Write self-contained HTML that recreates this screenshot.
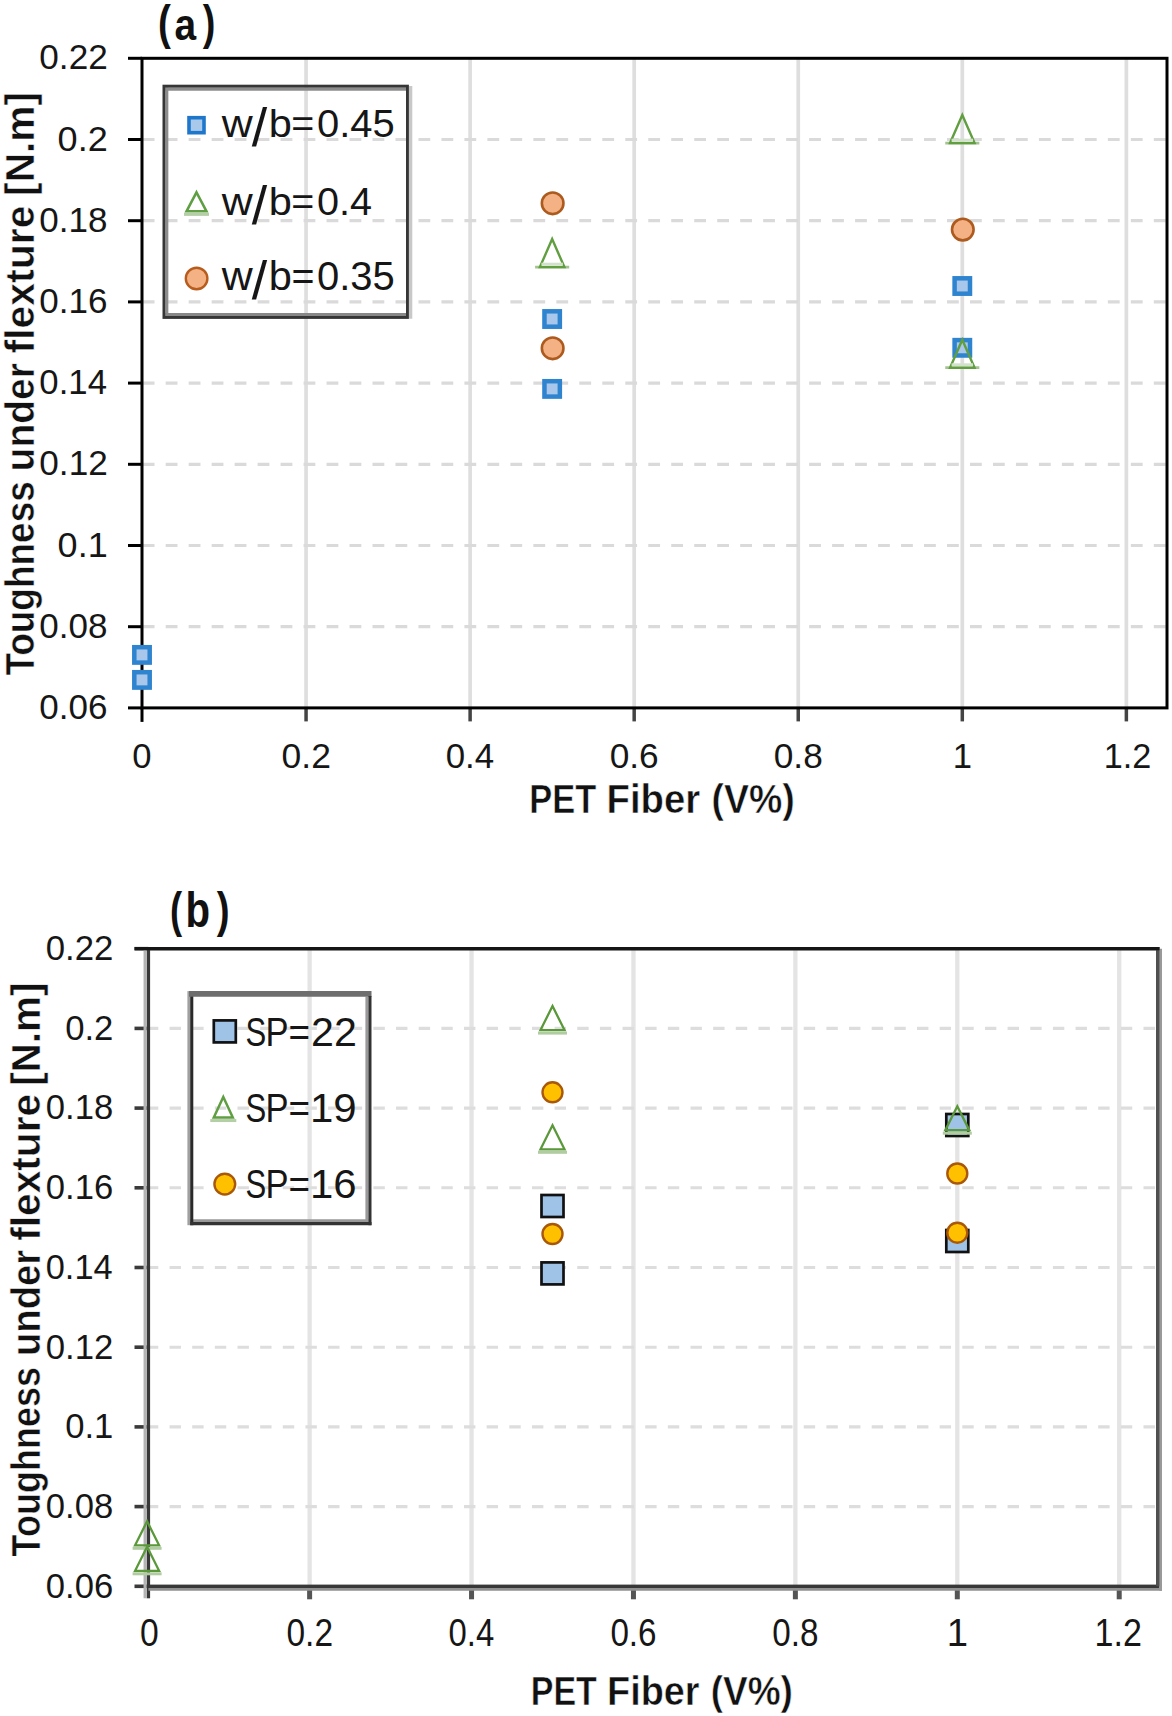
<!DOCTYPE html>
<html><head><meta charset="utf-8"><style>
html,body{margin:0;padding:0;background:#fff;}
svg{display:block;}
text{font-family:"Liberation Sans", sans-serif;}
text.r{stroke:#fff;stroke-width:0.0px;}
text.b{stroke:#fff;stroke-width:0.5px;}
</style></head><body>
<svg width="1172" height="1716" viewBox="0 0 1172 1716" font-family='"Liberation Sans", sans-serif'>
<rect width="1172" height="1716" fill="#fff"/>
<line x1="306.06" y1="58.30" x2="306.06" y2="707.90" stroke="#dedede" stroke-width="3.7"/>
<line x1="470.12" y1="58.30" x2="470.12" y2="707.90" stroke="#dedede" stroke-width="3.7"/>
<line x1="634.18" y1="58.30" x2="634.18" y2="707.90" stroke="#dedede" stroke-width="3.7"/>
<line x1="798.24" y1="58.30" x2="798.24" y2="707.90" stroke="#dedede" stroke-width="3.7"/>
<line x1="962.30" y1="58.30" x2="962.30" y2="707.90" stroke="#dedede" stroke-width="3.7"/>
<line x1="1126.36" y1="58.30" x2="1126.36" y2="707.90" stroke="#dedede" stroke-width="3.7"/>
<line x1="142.70" y1="626.70" x2="1167.38" y2="626.70" stroke="#dadada" stroke-width="3.2" stroke-dasharray="11.8 11.18"/>
<line x1="142.70" y1="545.50" x2="1167.38" y2="545.50" stroke="#dadada" stroke-width="3.2" stroke-dasharray="11.8 11.18"/>
<line x1="142.70" y1="464.30" x2="1167.38" y2="464.30" stroke="#dadada" stroke-width="3.2" stroke-dasharray="11.8 11.18"/>
<line x1="142.70" y1="383.10" x2="1167.38" y2="383.10" stroke="#dadada" stroke-width="3.2" stroke-dasharray="11.8 11.18"/>
<line x1="142.70" y1="301.90" x2="1167.38" y2="301.90" stroke="#dadada" stroke-width="3.2" stroke-dasharray="11.8 11.18"/>
<line x1="142.70" y1="220.70" x2="1167.38" y2="220.70" stroke="#dadada" stroke-width="3.2" stroke-dasharray="11.8 11.18"/>
<line x1="142.70" y1="139.50" x2="1167.38" y2="139.50" stroke="#dadada" stroke-width="3.2" stroke-dasharray="11.8 11.18"/>
<line x1="128.00" y1="707.90" x2="142.00" y2="707.90" stroke="#000" stroke-width="3"/>
<line x1="128.00" y1="626.70" x2="142.00" y2="626.70" stroke="#000" stroke-width="3"/>
<line x1="128.00" y1="545.50" x2="142.00" y2="545.50" stroke="#000" stroke-width="3"/>
<line x1="128.00" y1="464.30" x2="142.00" y2="464.30" stroke="#000" stroke-width="3"/>
<line x1="128.00" y1="383.10" x2="142.00" y2="383.10" stroke="#000" stroke-width="3"/>
<line x1="128.00" y1="301.90" x2="142.00" y2="301.90" stroke="#000" stroke-width="3"/>
<line x1="128.00" y1="220.70" x2="142.00" y2="220.70" stroke="#000" stroke-width="3"/>
<line x1="128.00" y1="139.50" x2="142.00" y2="139.50" stroke="#000" stroke-width="3"/>
<line x1="128.00" y1="58.30" x2="142.00" y2="58.30" stroke="#000" stroke-width="3"/>
<line x1="142.00" y1="707.90" x2="142.00" y2="721.90" stroke="#000" stroke-width="3"/>
<line x1="306.06" y1="707.90" x2="306.06" y2="721.40" stroke="#444" stroke-width="3.5"/>
<line x1="470.12" y1="707.90" x2="470.12" y2="721.40" stroke="#444" stroke-width="3.5"/>
<line x1="634.18" y1="707.90" x2="634.18" y2="721.40" stroke="#444" stroke-width="3.5"/>
<line x1="798.24" y1="707.90" x2="798.24" y2="721.40" stroke="#444" stroke-width="3.5"/>
<line x1="962.30" y1="707.90" x2="962.30" y2="721.40" stroke="#444" stroke-width="3.5"/>
<line x1="1126.36" y1="707.90" x2="1126.36" y2="721.40" stroke="#444" stroke-width="3.5"/>
<rect x="142.00" y="58.30" width="1025.00" height="649.60" fill="none" stroke="#000" stroke-width="3"/>
<text class="r" x="39.35" y="718.99" font-size="35.76" font-weight="normal" fill="#161616" textLength="68.14" lengthAdjust="spacingAndGlyphs">0.06</text>
<text class="r" x="39.35" y="637.79" font-size="35.76" font-weight="normal" fill="#161616" textLength="68.14" lengthAdjust="spacingAndGlyphs">0.08</text>
<text class="r" x="57.61" y="556.59" font-size="35.76" font-weight="normal" fill="#161616" textLength="50.06" lengthAdjust="spacingAndGlyphs">0.1</text>
<text class="r" x="39.34" y="475.39" font-size="35.76" font-weight="normal" fill="#161616" textLength="68.41" lengthAdjust="spacingAndGlyphs">0.12</text>
<text class="r" x="39.36" y="394.19" font-size="35.76" font-weight="normal" fill="#161616" textLength="67.59" lengthAdjust="spacingAndGlyphs">0.14</text>
<text class="r" x="39.35" y="312.99" font-size="35.76" font-weight="normal" fill="#161616" textLength="68.14" lengthAdjust="spacingAndGlyphs">0.16</text>
<text class="r" x="39.35" y="231.79" font-size="35.76" font-weight="normal" fill="#161616" textLength="68.14" lengthAdjust="spacingAndGlyphs">0.18</text>
<text class="r" x="57.61" y="150.59" font-size="35.76" font-weight="normal" fill="#161616" textLength="50.15" lengthAdjust="spacingAndGlyphs">0.2</text>
<text class="r" x="39.34" y="69.39" font-size="35.76" font-weight="normal" fill="#161616" textLength="68.41" lengthAdjust="spacingAndGlyphs">0.22</text>
<text class="r" x="132.35" y="768.30" font-size="34.63" font-weight="normal" fill="#161616" textLength="19.26" lengthAdjust="spacingAndGlyphs">0</text>
<text class="r" x="281.59" y="768.30" font-size="34.63" font-weight="normal" fill="#161616" textLength="49.30" lengthAdjust="spacingAndGlyphs">0.2</text>
<text class="r" x="445.68" y="768.30" font-size="34.63" font-weight="normal" fill="#161616" textLength="48.46" lengthAdjust="spacingAndGlyphs">0.4</text>
<text class="r" x="609.72" y="768.30" font-size="34.63" font-weight="normal" fill="#161616" textLength="49.02" lengthAdjust="spacingAndGlyphs">0.6</text>
<text class="r" x="773.78" y="768.30" font-size="34.63" font-weight="normal" fill="#161616" textLength="49.02" lengthAdjust="spacingAndGlyphs">0.8</text>
<text class="r" x="952.81" y="768.30" font-size="34.63" font-weight="normal" fill="#161616" textLength="19.26" lengthAdjust="spacingAndGlyphs">1</text>
<text class="r" x="1103.78" y="768.30" font-size="34.63" font-weight="normal" fill="#161616" textLength="47.59" lengthAdjust="spacingAndGlyphs">1.2</text>
<text class="t" x="157.92" y="39.13" font-size="48.79" font-weight="bold" fill="#111" textLength="12.84" lengthAdjust="spacingAndGlyphs">(</text>
<text class="t" x="174.38" y="39.91" font-size="43.84" font-weight="bold" fill="#111" textLength="21.62" lengthAdjust="spacingAndGlyphs">a</text>
<text class="t" x="202.76" y="39.13" font-size="48.79" font-weight="bold" fill="#111" textLength="12.61" lengthAdjust="spacingAndGlyphs">)</text>
<text class="b" x="529.33" y="812.75" font-size="40.87" font-weight="bold" fill="#111" textLength="66.86" lengthAdjust="spacingAndGlyphs">PET</text>
<text class="b" x="606.57" y="812.75" font-size="40.87" font-weight="bold" fill="#111" textLength="93.55" lengthAdjust="spacingAndGlyphs">Fiber</text>
<text class="b" x="711.48" y="812.75" font-size="40.87" font-weight="bold" fill="#111" textLength="83.13" lengthAdjust="spacingAndGlyphs">(V%)</text>
<text class="b" fill="#111" transform="translate(33.60 675.62) rotate(-90)" font-size="40.50" font-weight="bold" textLength="194.42" lengthAdjust="spacingAndGlyphs">Toughness</text>
<text class="b" fill="#111" transform="translate(33.60 471.39) rotate(-90)" font-size="40.50" font-weight="bold" textLength="108.34" lengthAdjust="spacingAndGlyphs">under</text>
<text class="b" fill="#111" transform="translate(33.60 353.47) rotate(-90)" font-size="40.50" font-weight="bold" textLength="147.94" lengthAdjust="spacingAndGlyphs">flexture</text>
<text class="b" fill="#111" transform="translate(33.60 195.89) rotate(-90)" font-size="40.50" font-weight="bold" textLength="103.88" lengthAdjust="spacingAndGlyphs">[N.m]</text>
<line x1="166.9" y1="87.5" x2="166.9" y2="316.1" stroke="#8c8c8c" stroke-width="2.9"/>
<line x1="165.5" y1="89.15" x2="406" y2="89.15" stroke="#8c8c8c" stroke-width="3.3"/>
<line x1="165.5" y1="314.6" x2="406" y2="314.6" stroke="#888" stroke-width="3.0"/>
<line x1="410.6" y1="86" x2="410.6" y2="318.8" stroke="#c8c8c8" stroke-width="3.4"/>
<rect x="163.95" y="86.15" width="243.5" height="231.3" fill="none" stroke="#363636" stroke-width="2.9"/>
<rect x="189.00" y="117.70" width="15" height="15" fill="#a9c9eb" stroke="#1f77cc" stroke-width="3.6"/>
<path d="M196.50 192.30 L206.50 211.30 L186.50 211.30 Z" fill="none" stroke="#5f9e42" stroke-width="2.5" stroke-linejoin="miter"/>
<line x1="184.00" y1="214.40" x2="209.00" y2="214.40" stroke="#b4cfa6" stroke-width="3"/>
<circle cx="196.60" cy="278.50" r="10.8" fill="#f4b183" stroke="#b85c1e" stroke-width="2.4"/>
<text class="r" x="221.65" y="136.86" font-size="39.01" font-weight="normal" fill="#161616" textLength="30.98" lengthAdjust="spacingAndGlyphs">w</text>
<text class="r" x="268.85" y="136.86" font-size="39.01" font-weight="normal" fill="#161616" textLength="23.11" lengthAdjust="spacingAndGlyphs">b</text>
<text class="r" x="291.38" y="136.86" font-size="39.01" font-weight="normal" fill="#161616" textLength="23.00" lengthAdjust="spacingAndGlyphs">=</text>
<text class="r" x="316.95" y="136.86" font-size="39.01" font-weight="normal" fill="#161616" textLength="77.75" lengthAdjust="spacingAndGlyphs">0.45</text>
<text class="r" x="251.65" y="145.71" font-size="53.88" font-weight="normal" fill="#161616" textLength="15.42" lengthAdjust="spacingAndGlyphs">/</text>
<text class="r" x="221.65" y="215.16" font-size="39.01" font-weight="normal" fill="#161616" textLength="30.98" lengthAdjust="spacingAndGlyphs">w</text>
<text class="r" x="268.85" y="215.16" font-size="39.01" font-weight="normal" fill="#161616" textLength="23.11" lengthAdjust="spacingAndGlyphs">b</text>
<text class="r" x="291.38" y="215.16" font-size="39.01" font-weight="normal" fill="#161616" textLength="23.00" lengthAdjust="spacingAndGlyphs">=</text>
<text class="r" x="316.97" y="215.16" font-size="39.01" font-weight="normal" fill="#161616" textLength="55.08" lengthAdjust="spacingAndGlyphs">0.4</text>
<text class="r" x="251.65" y="224.01" font-size="53.88" font-weight="normal" fill="#161616" textLength="15.42" lengthAdjust="spacingAndGlyphs">/</text>
<text class="r" x="221.65" y="290.25" font-size="39.72" font-weight="normal" fill="#161616" textLength="30.98" lengthAdjust="spacingAndGlyphs">w</text>
<text class="r" x="268.85" y="290.25" font-size="39.72" font-weight="normal" fill="#161616" textLength="23.11" lengthAdjust="spacingAndGlyphs">b</text>
<text class="r" x="291.38" y="290.25" font-size="39.72" font-weight="normal" fill="#161616" textLength="23.00" lengthAdjust="spacingAndGlyphs">=</text>
<text class="r" x="316.95" y="290.25" font-size="39.72" font-weight="normal" fill="#161616" textLength="77.85" lengthAdjust="spacingAndGlyphs">0.35</text>
<text class="r" x="251.65" y="298.61" font-size="53.88" font-weight="normal" fill="#161616" textLength="15.42" lengthAdjust="spacingAndGlyphs">/</text>
<rect x="134.30" y="647.20" width="15.4" height="15.4" fill="#a8c7ea" stroke="#2f84cf" stroke-width="4.5"/>
<rect x="134.30" y="672.20" width="15.4" height="15.4" fill="#a8c7ea" stroke="#2f84cf" stroke-width="4.5"/>
<rect x="544.45" y="311.30" width="15.4" height="15.4" fill="#a8c7ea" stroke="#2f84cf" stroke-width="4.5"/>
<rect x="544.45" y="381.20" width="15.4" height="15.4" fill="#a8c7ea" stroke="#2f84cf" stroke-width="4.5"/>
<rect x="954.60" y="278.30" width="15.4" height="15.4" fill="#a8c7ea" stroke="#2f84cf" stroke-width="4.5"/>
<rect x="954.60" y="340.10" width="15.4" height="15.4" fill="#a8c7ea" stroke="#2f84cf" stroke-width="4.5"/>
<line x1="535.10" y1="267.10" x2="569.20" y2="267.10" stroke="#a3c491" stroke-width="2.7"/>
<path d="M552.15 239.10 L564.40 267.10 L539.90 267.10 Z" fill="none" stroke="#609e40" stroke-width="2.4" stroke-linejoin="miter"/>
<line x1="541.40" y1="264.20" x2="562.90" y2="264.20" stroke="#d2e2ca" stroke-width="3"/>
<line x1="945.25" y1="143.10" x2="979.35" y2="143.10" stroke="#a3c491" stroke-width="2.7"/>
<path d="M962.30 115.10 L974.55 143.10 L950.05 143.10 Z" fill="none" stroke="#609e40" stroke-width="2.4" stroke-linejoin="miter"/>
<line x1="951.55" y1="140.20" x2="973.05" y2="140.20" stroke="#d2e2ca" stroke-width="3"/>
<line x1="945.25" y1="367.70" x2="979.35" y2="367.70" stroke="#a3c491" stroke-width="2.7"/>
<path d="M962.30 339.70 L974.55 367.70 L950.05 367.70 Z" fill="none" stroke="#609e40" stroke-width="2.4" stroke-linejoin="miter"/>
<line x1="951.55" y1="364.80" x2="973.05" y2="364.80" stroke="#d2e2ca" stroke-width="3"/>
<circle cx="552.65" cy="203.30" r="10.8" fill="#f4b183" stroke="#ad5a1e" stroke-width="2.6"/>
<circle cx="552.65" cy="348.30" r="10.8" fill="#f4b183" stroke="#ad5a1e" stroke-width="2.6"/>
<circle cx="962.80" cy="229.60" r="10.8" fill="#f4b183" stroke="#ad5a1e" stroke-width="2.6"/>
<line x1="309.62" y1="948.70" x2="309.62" y2="1586.30" stroke="#e4e4e4" stroke-width="4.3"/>
<line x1="471.54" y1="948.70" x2="471.54" y2="1586.30" stroke="#e4e4e4" stroke-width="4.3"/>
<line x1="633.46" y1="948.70" x2="633.46" y2="1586.30" stroke="#e4e4e4" stroke-width="4.3"/>
<line x1="795.38" y1="948.70" x2="795.38" y2="1586.30" stroke="#e4e4e4" stroke-width="4.3"/>
<line x1="957.30" y1="948.70" x2="957.30" y2="1586.30" stroke="#e4e4e4" stroke-width="4.3"/>
<line x1="1119.22" y1="948.70" x2="1119.22" y2="1586.30" stroke="#e4e4e4" stroke-width="4.3"/>
<line x1="146.90" y1="1506.60" x2="1159.70" y2="1506.60" stroke="#dddddd" stroke-width="3.1" stroke-dasharray="11.4 11.25"/>
<line x1="146.90" y1="1426.90" x2="1159.70" y2="1426.90" stroke="#dddddd" stroke-width="3.1" stroke-dasharray="11.4 11.25"/>
<line x1="146.90" y1="1347.20" x2="1159.70" y2="1347.20" stroke="#dddddd" stroke-width="3.1" stroke-dasharray="11.4 11.25"/>
<line x1="146.90" y1="1267.50" x2="1159.70" y2="1267.50" stroke="#dddddd" stroke-width="3.1" stroke-dasharray="11.4 11.25"/>
<line x1="146.90" y1="1187.80" x2="1159.70" y2="1187.80" stroke="#dddddd" stroke-width="3.1" stroke-dasharray="11.4 11.25"/>
<line x1="146.90" y1="1108.10" x2="1159.70" y2="1108.10" stroke="#dddddd" stroke-width="3.1" stroke-dasharray="11.4 11.25"/>
<line x1="146.90" y1="1028.40" x2="1159.70" y2="1028.40" stroke="#dddddd" stroke-width="3.1" stroke-dasharray="11.4 11.25"/>
<line x1="134.50" y1="1586.30" x2="148.40" y2="1586.30" stroke="#3a3a3a" stroke-width="3.6"/>
<line x1="134.50" y1="1506.60" x2="148.40" y2="1506.60" stroke="#3a3a3a" stroke-width="3.6"/>
<line x1="134.50" y1="1426.90" x2="148.40" y2="1426.90" stroke="#3a3a3a" stroke-width="3.6"/>
<line x1="134.50" y1="1347.20" x2="148.40" y2="1347.20" stroke="#3a3a3a" stroke-width="3.6"/>
<line x1="134.50" y1="1267.50" x2="148.40" y2="1267.50" stroke="#3a3a3a" stroke-width="3.6"/>
<line x1="134.50" y1="1187.80" x2="148.40" y2="1187.80" stroke="#3a3a3a" stroke-width="3.6"/>
<line x1="134.50" y1="1108.10" x2="148.40" y2="1108.10" stroke="#3a3a3a" stroke-width="3.6"/>
<line x1="134.50" y1="1028.40" x2="148.40" y2="1028.40" stroke="#3a3a3a" stroke-width="3.6"/>
<line x1="134.50" y1="948.70" x2="148.40" y2="948.70" stroke="#3a3a3a" stroke-width="3.6"/>
<line x1="148.40" y1="1586.30" x2="148.40" y2="1598.30" stroke="#383838" stroke-width="3.4"/>
<line x1="309.62" y1="1586.30" x2="309.62" y2="1599.30" stroke="#555" stroke-width="5"/>
<line x1="471.54" y1="1586.30" x2="471.54" y2="1599.30" stroke="#555" stroke-width="5"/>
<line x1="633.46" y1="1586.30" x2="633.46" y2="1599.30" stroke="#555" stroke-width="5"/>
<line x1="795.38" y1="1586.30" x2="795.38" y2="1599.30" stroke="#555" stroke-width="5"/>
<line x1="957.30" y1="1586.30" x2="957.30" y2="1599.30" stroke="#555" stroke-width="5"/>
<line x1="1119.22" y1="1586.30" x2="1119.22" y2="1599.30" stroke="#555" stroke-width="5"/>
<rect x="148.40" y="948.70" width="1009.40" height="637.60" fill="none" stroke="#383838" stroke-width="3.4"/>
<line x1="145.1" y1="950.20" x2="145.1" y2="1598.30" stroke="#b4b4b4" stroke-width="3.1"/>
<line x1="148.40" y1="1589.3" x2="1162" y2="1589.3" stroke="#909090" stroke-width="2.8"/>
<line x1="1160.65" y1="948.70" x2="1160.65" y2="1590.7" stroke="#999" stroke-width="2.7"/>
<line x1="1157.80" y1="948.70" x2="1157.80" y2="1586.30" stroke="#505050" stroke-width="3.2"/>
<line x1="134.50" y1="948.70" x2="1159.50" y2="948.70" stroke="#161616" stroke-width="3.3"/>
<text class="r" x="45.76" y="1597.64" font-size="35.90" font-weight="normal" fill="#161616" textLength="67.40" lengthAdjust="spacingAndGlyphs">0.06</text>
<text class="r" x="45.76" y="1517.94" font-size="35.90" font-weight="normal" fill="#161616" textLength="67.40" lengthAdjust="spacingAndGlyphs">0.08</text>
<text class="r" x="65.16" y="1438.24" font-size="35.90" font-weight="normal" fill="#161616" textLength="48.14" lengthAdjust="spacingAndGlyphs">0.1</text>
<text class="r" x="45.76" y="1358.54" font-size="35.90" font-weight="normal" fill="#161616" textLength="67.68" lengthAdjust="spacingAndGlyphs">0.12</text>
<text class="r" x="45.78" y="1278.84" font-size="35.90" font-weight="normal" fill="#161616" textLength="66.87" lengthAdjust="spacingAndGlyphs">0.14</text>
<text class="r" x="45.76" y="1199.14" font-size="35.90" font-weight="normal" fill="#161616" textLength="67.40" lengthAdjust="spacingAndGlyphs">0.16</text>
<text class="r" x="45.76" y="1119.44" font-size="35.90" font-weight="normal" fill="#161616" textLength="67.40" lengthAdjust="spacingAndGlyphs">0.18</text>
<text class="r" x="65.16" y="1039.74" font-size="35.90" font-weight="normal" fill="#161616" textLength="48.23" lengthAdjust="spacingAndGlyphs">0.2</text>
<text class="r" x="45.76" y="960.04" font-size="35.90" font-weight="normal" fill="#161616" textLength="67.68" lengthAdjust="spacingAndGlyphs">0.22</text>
<text class="r" x="140.10" y="1646.37" font-size="38.30" font-weight="normal" fill="#161616" textLength="18.75" lengthAdjust="spacingAndGlyphs">0</text>
<text class="r" x="286.53" y="1646.37" font-size="38.30" font-weight="normal" fill="#161616" textLength="46.52" lengthAdjust="spacingAndGlyphs">0.2</text>
<text class="r" x="448.47" y="1646.37" font-size="38.30" font-weight="normal" fill="#161616" textLength="45.73" lengthAdjust="spacingAndGlyphs">0.4</text>
<text class="r" x="610.38" y="1646.37" font-size="38.30" font-weight="normal" fill="#161616" textLength="46.25" lengthAdjust="spacingAndGlyphs">0.6</text>
<text class="r" x="772.30" y="1646.37" font-size="38.30" font-weight="normal" fill="#161616" textLength="46.25" lengthAdjust="spacingAndGlyphs">0.8</text>
<text class="r" x="946.74" y="1646.37" font-size="38.30" font-weight="normal" fill="#161616" textLength="21.30" lengthAdjust="spacingAndGlyphs">1</text>
<text class="r" x="1094.59" y="1646.37" font-size="38.30" font-weight="normal" fill="#161616" textLength="47.37" lengthAdjust="spacingAndGlyphs">1.2</text>
<text class="t" x="170.03" y="927.03" font-size="49.76" font-weight="bold" fill="#111" textLength="12.13" lengthAdjust="spacingAndGlyphs">(</text>
<text class="t" x="185.44" y="927.45" font-size="50.07" font-weight="bold" fill="#111" textLength="24.56" lengthAdjust="spacingAndGlyphs">b</text>
<text class="t" x="216.75" y="927.03" font-size="49.76" font-weight="bold" fill="#111" textLength="12.84" lengthAdjust="spacingAndGlyphs">)</text>
<text class="b" x="530.76" y="1705.05" font-size="40.73" font-weight="bold" fill="#111" textLength="66.03" lengthAdjust="spacingAndGlyphs">PET</text>
<text class="b" x="607.10" y="1705.05" font-size="40.73" font-weight="bold" fill="#111" textLength="92.42" lengthAdjust="spacingAndGlyphs">Fiber</text>
<text class="b" x="710.70" y="1705.05" font-size="40.73" font-weight="bold" fill="#111" textLength="82.19" lengthAdjust="spacingAndGlyphs">(V%)</text>
<text class="b" fill="#111" transform="translate(40.20 1556.41) rotate(-90)" font-size="40.50" font-weight="bold" textLength="189.37" lengthAdjust="spacingAndGlyphs">Toughness</text>
<text class="b" fill="#111" transform="translate(40.20 1356.04) rotate(-90)" font-size="40.50" font-weight="bold" textLength="106.29" lengthAdjust="spacingAndGlyphs">under</text>
<text class="b" fill="#111" transform="translate(40.20 1240.86) rotate(-90)" font-size="40.50" font-weight="bold" textLength="147.03" lengthAdjust="spacingAndGlyphs">flexture</text>
<text class="b" fill="#111" transform="translate(40.20 1085.87) rotate(-90)" font-size="40.50" font-weight="bold" textLength="103.25" lengthAdjust="spacingAndGlyphs">[N.m]</text>
<line x1="188.8" y1="991.1" x2="188.8" y2="1225.2" stroke="#a0a0a0" stroke-width="2.8"/>
<line x1="366.9" y1="996.7" x2="366.9" y2="1222" stroke="#999" stroke-width="3"/>
<line x1="190.2" y1="1220.6" x2="368.4" y2="1220.6" stroke="#999" stroke-width="2.8"/>
<line x1="191.75" y1="996" x2="191.75" y2="1225.2" stroke="#2a2a2a" stroke-width="3.1"/>
<line x1="189" y1="993.9" x2="371.5" y2="993.9" stroke="#6e6e6e" stroke-width="5.6"/>
<line x1="369.95" y1="996" x2="369.95" y2="1225.2" stroke="#333" stroke-width="3.1"/>
<line x1="190.2" y1="1223.6" x2="371.5" y2="1223.6" stroke="#333" stroke-width="3.2"/>
<rect x="213.80" y="1020.40" width="22" height="22" fill="#9fc3e7" stroke="#111" stroke-width="2.7"/>
<path d="M223.30 1096.95 L232.80 1117.45 L213.80 1117.45 Z" fill="none" stroke="#5f9e42" stroke-width="2.5" stroke-linejoin="miter"/>
<line x1="210.30" y1="1120.55" x2="236.30" y2="1120.55" stroke="#b4cfa6" stroke-width="3"/>
<circle cx="224.80" cy="1184.10" r="10.4" fill="#ffc000" stroke="#a85808" stroke-width="2.4"/>
<text class="r" x="245.55" y="1045.65" font-size="40.28" font-weight="normal" fill="#161616" textLength="20.76" lengthAdjust="spacingAndGlyphs">S</text>
<text class="r" x="265.60" y="1045.65" font-size="40.28" font-weight="normal" fill="#161616" textLength="23.05" lengthAdjust="spacingAndGlyphs">P</text>
<text class="r" x="288.60" y="1045.65" font-size="40.28" font-weight="normal" fill="#161616" textLength="21.55" lengthAdjust="spacingAndGlyphs">=</text>
<text class="r" x="311.09" y="1045.65" font-size="40.28" font-weight="normal" fill="#161616" textLength="45.82" lengthAdjust="spacingAndGlyphs">22</text>
<text class="r" x="245.55" y="1122.35" font-size="40.28" font-weight="normal" fill="#161616" textLength="20.76" lengthAdjust="spacingAndGlyphs">S</text>
<text class="r" x="265.60" y="1122.35" font-size="40.28" font-weight="normal" fill="#161616" textLength="23.05" lengthAdjust="spacingAndGlyphs">P</text>
<text class="r" x="288.60" y="1122.35" font-size="40.28" font-weight="normal" fill="#161616" textLength="21.55" lengthAdjust="spacingAndGlyphs">=</text>
<text class="r" x="310.00" y="1122.35" font-size="40.28" font-weight="normal" fill="#161616" textLength="46.74" lengthAdjust="spacingAndGlyphs">19</text>
<text class="r" x="245.55" y="1198.35" font-size="40.28" font-weight="normal" fill="#161616" textLength="20.76" lengthAdjust="spacingAndGlyphs">S</text>
<text class="r" x="265.60" y="1198.35" font-size="40.28" font-weight="normal" fill="#161616" textLength="23.05" lengthAdjust="spacingAndGlyphs">P</text>
<text class="r" x="288.60" y="1198.35" font-size="40.28" font-weight="normal" fill="#161616" textLength="21.55" lengthAdjust="spacingAndGlyphs">=</text>
<text class="r" x="310.01" y="1198.35" font-size="40.28" font-weight="normal" fill="#161616" textLength="46.62" lengthAdjust="spacingAndGlyphs">16</text>
<rect x="541.50" y="1195.00" width="22" height="22" fill="#9fc3e7" stroke="#111" stroke-width="2.7"/>
<rect x="541.50" y="1262.40" width="22" height="22" fill="#9fc3e7" stroke="#111" stroke-width="2.7"/>
<rect x="946.30" y="1114.00" width="22" height="22" fill="#9fc3e7" stroke="#111" stroke-width="2.7"/>
<rect x="946.30" y="1230.00" width="22" height="22" fill="#9fc3e7" stroke="#111" stroke-width="2.7"/>
<path d="M147.10 1521.30 L159.10 1545.30 L135.10 1545.30 Z" fill="none" stroke="#5a983a" stroke-width="2.3" stroke-linejoin="miter"/>
<line x1="132.60" y1="1548.30" x2="161.60" y2="1548.30" stroke="#b0cca0" stroke-width="3"/>
<path d="M147.10 1546.80 L159.10 1570.80 L135.10 1570.80 Z" fill="none" stroke="#5a983a" stroke-width="2.3" stroke-linejoin="miter"/>
<line x1="132.60" y1="1573.80" x2="161.60" y2="1573.80" stroke="#b0cca0" stroke-width="3"/>
<path d="M552.50 1006.10 L564.50 1030.10 L540.50 1030.10 Z" fill="none" stroke="#5a983a" stroke-width="2.3" stroke-linejoin="miter"/>
<line x1="538.00" y1="1033.10" x2="567.00" y2="1033.10" stroke="#b0cca0" stroke-width="3"/>
<path d="M552.50 1125.30 L564.50 1149.30 L540.50 1149.30 Z" fill="none" stroke="#5a983a" stroke-width="2.3" stroke-linejoin="miter"/>
<line x1="538.00" y1="1152.30" x2="567.00" y2="1152.30" stroke="#b0cca0" stroke-width="3"/>
<path d="M957.30 1106.20 L969.30 1130.20 L945.30 1130.20 Z" fill="none" stroke="#5a983a" stroke-width="2.3" stroke-linejoin="miter"/>
<line x1="942.80" y1="1133.20" x2="971.80" y2="1133.20" stroke="#b0cca0" stroke-width="3"/>
<circle cx="552.50" cy="1092.30" r="10.0" fill="#ffc000" stroke="#a85808" stroke-width="2.4"/>
<circle cx="552.50" cy="1234.00" r="10.0" fill="#ffc000" stroke="#a85808" stroke-width="2.4"/>
<circle cx="957.30" cy="1173.50" r="10.0" fill="#ffc000" stroke="#a85808" stroke-width="2.4"/>
<circle cx="957.30" cy="1232.70" r="10.0" fill="#ffc000" stroke="#a85808" stroke-width="2.4"/>
</svg>
</body></html>
